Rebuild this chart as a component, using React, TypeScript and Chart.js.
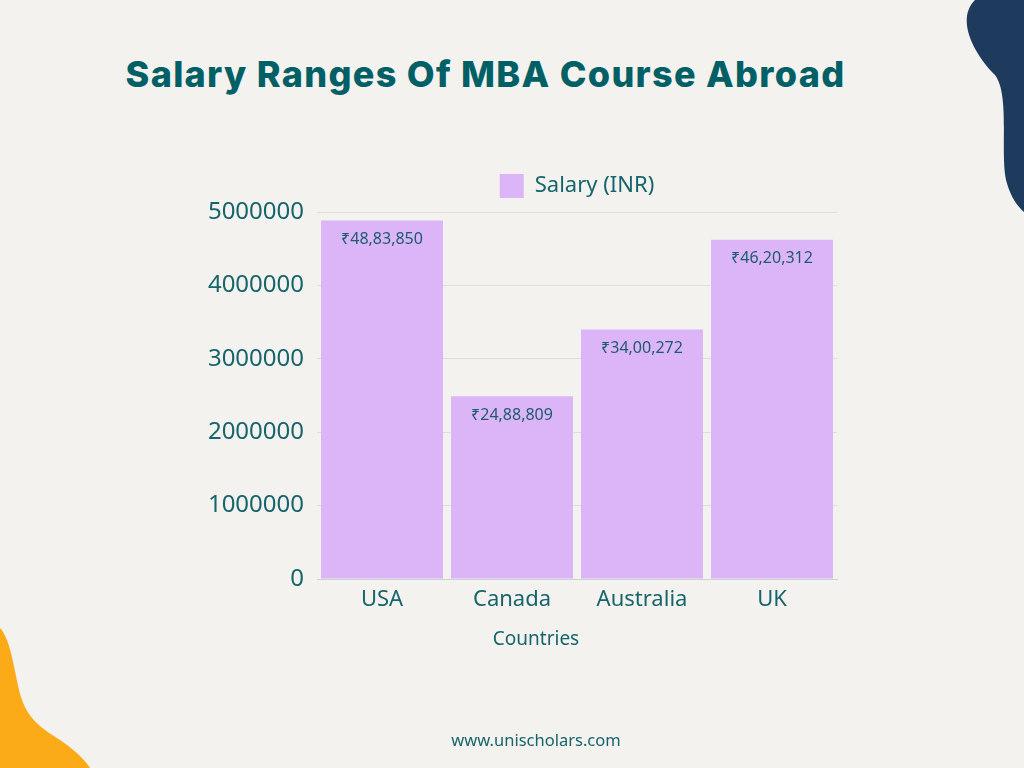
import React, { useEffect, useRef } from "react";
import { Chart, registerables } from "chart.js";

Chart.register(...registerables);

const categories = ["USA", "Canada", "Australia", "UK"];
const salaryValues = [4883850, 2488809, 3400272, 4620312];
const valueLabels = ["₹48,83,850", "₹24,88,809", "₹34,00,272", "₹46,20,312"];
const yTickValues = [0, 1000000, 2000000, 3000000, 4000000, 5000000];
const seriesName = "Salary (INR)";
const xAxisTitle = "Countries";
const chartTitle = "Salary Ranges Of MBA Course Abroad";
const footerText = "www.unischolars.com";

const TEAL = "#16646c";
const BAR = "#dbb5f7";
const FONT = "'Noto Sans', sans-serif";

const labelPlugin = {
  id: "valueLabels",
  afterDatasetsDraw(chart: any) {
    const ctx = chart.ctx;
    const meta = chart.getDatasetMeta(0);
    ctx.save();
    ctx.font = `16px ${FONT}`;
    ctx.fillStyle = "#1d5b6e";
    ctx.textAlign = "center";
    ctx.textBaseline = "middle";
    meta.data.forEach((bar: any, i: number) => {
      ctx.fillText(valueLabels[i], bar.x, bar.y + 19);
    });
    ctx.restore();
  },
};

const xTitlePlugin = {
  id: "xTitle",
  afterDraw(chart: any) {
    const ctx = chart.ctx;
    const xs = chart.scales.x;
    ctx.save();
    ctx.font = `19px ${FONT}`;
    ctx.fillStyle = TEAL;
    ctx.textAlign = "center";
    ctx.textBaseline = "middle";
    ctx.fillText(xAxisTitle, chart.width / 2 + 24, xs.bottom - 19);
    ctx.restore();
  },
};

const legendLayoutPlugin = {
  id: "legendLayout",
  beforeInit(chart: any) {
    const legend = chart.legend;
    const fit = legend.fit;
    legend.fit = function () {
      fit.call(this);
      this.height = 52;
    };
  },
  afterLayout(chart: any) {
    const legend = chart.legend;
    const w = legend.right - legend.left;
    const center = (chart.chartArea.left + chart.chartArea.right) / 2;
    legend.left = center - w / 2;
    legend.right = center + w / 2;
  },
};

export default function App() {
  const ref = useRef<HTMLCanvasElement>(null);
  useEffect(() => {
    document.body.style.margin = "0";
    const chart = new Chart(ref.current as HTMLCanvasElement, {
      type: "bar",
      data: {
        labels: categories,
        datasets: [
          {
            label: seriesName,
            data: salaryValues,
            backgroundColor: BAR,
            borderWidth: 0,
            barPercentage: 0.9385,
            categoryPercentage: 1,
          },
        ],
      },
      options: {
        animation: false,
        responsive: false,
        layout: { padding: { left: 186, right: 187, top: 160, bottom: 109 } },
        plugins: {
          legend: {
            labels: {
              boxWidth: 24,
              boxHeight: 24,
              padding: 14,
              color: TEAL,
              font: { size: 22, family: FONT },
            },
          },
          tooltip: { enabled: false },
        },
        scales: {
          x: {
            afterFit: (s: any) => {
              s.height = 80;
            },
            grid: { display: false, drawTicks: false },
            border: { color: "#c9d3d2" },
            ticks: { color: TEAL, padding: 8, font: { size: 22, family: FONT } },
          },
          y: {
            min: 0,
            max: 5000000,
            afterFit: (s: any) => {
              s.width = 131;
            },
            afterBuildTicks: (s: any) => {
              s.ticks = yTickValues.map((v) => ({ value: v }));
            },
            ticks: {
              color: TEAL,
              padding: 13,
              font: { size: 24, family: FONT },
              callback: (v: any) => String(v),
            },
            grid: { color: "#dcdfda", drawTicks: false },
            border: { display: false },
          },
        },
      },
      plugins: [labelPlugin, legendLayoutPlugin, xTitlePlugin],
    });
    return () => chart.destroy();
  }, []);

  return (
    <div
      style={{
        position: "fixed",
        left: 0,
        top: 0,
        width: 1024,
        height: 768,
        background: "#f3f2ee",
        overflow: "hidden",
      }}
    >
      <svg width={1024} height={768} style={{ position: "absolute", left: 0, top: 0 }}>
        <path
          d="M 975 0 C 955 20, 975 55, 995 75 C 1010 95, 1000 150, 1006 180 C 1010 195, 1016 205, 1024 212 L 1024 0 Z"
          fill="#1e3a5c"
        />
        <path
          d="M 0 628 C 12 640, 15 680, 22 700 C 30 722, 45 730, 60 740 C 75 750, 85 760, 90 768 L 0 768 Z"
          fill="#fbab18"
        />
      </svg>
      <div
        style={{
          position: "absolute",
          left: 0,
          width: 971,
          top: 51,
          textAlign: "center",
          fontFamily: "Inter, sans-serif",
          fontWeight: 800,
          fontSize: 36,
          letterSpacing: "1.3px",
          lineHeight: "46px",
          whiteSpace: "nowrap",
          color: "#015f66",
        }}
      >
        {chartTitle}
      </div>
      <canvas ref={ref} width={1024} height={768} style={{ position: "absolute", left: 0, top: 0 }} />
      <div
        style={{
          position: "absolute",
          left: 0,
          width: 1072,
          top: 729,
          textAlign: "center",
          fontFamily: FONT,
          fontSize: 16.5,
          lineHeight: "22px",
          color: "#16646c",
        }}
      >
        {footerText}
      </div>
    </div>
  );
}
